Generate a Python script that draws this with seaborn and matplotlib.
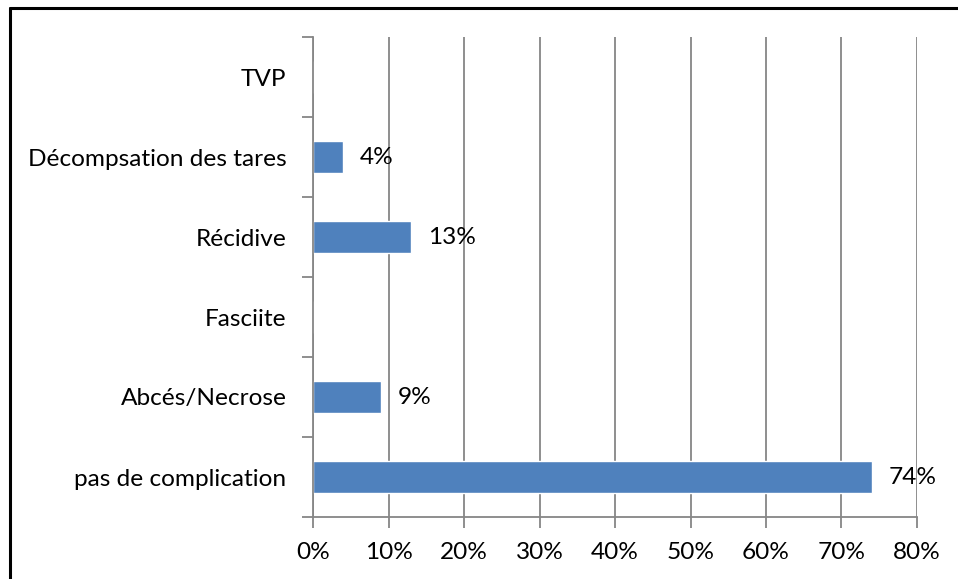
import matplotlib
matplotlib.use("Agg")
import matplotlib.pyplot as plt
from matplotlib.ticker import FixedLocator, PercentFormatter
import seaborn as sns
import pandas as pd

# Complications, listed top to bottom, with their share of patients (%)
categories = ["TVP", "Décompsation des tares", "Récidive", "Fasciite",
              "Abcés/Necrose", "pas de complication"]
values = [0, 4, 13, 0, 9, 74]
x_ticks = [0, 10, 20, 30, 40, 50, 60, 70, 80]

df = pd.DataFrame({"complication": categories, "pct": values})

sns.set_theme(style="white")
plt.rcParams["font.family"] = ["Lato", "DejaVu Sans"]

BAR = "#4F81BD"
GRID = "#868686"
FS = 17.6

fig = plt.figure(figsize=(9.58, 5.79), dpi=100)
ax = fig.add_axes([313 / 958, 1 - 517 / 579, (917 - 313) / 958, (517 - 37) / 579])

sns.barplot(data=df, y="complication", x="pct", orient="h", color=BAR,
            width=0.4, saturation=1, ax=ax, order=categories)

ax.set_xlim(0, 80)
ax.set_ylim(len(categories) - 0.5, -0.5)
ax.set_xlabel("")
ax.set_ylabel("")

ax.xaxis.set_major_locator(FixedLocator(x_ticks))
ax.xaxis.set_major_formatter(PercentFormatter(decimals=0))
ax.grid(axis="x", color=GRID, linewidth=1.3)
ax.set_axisbelow(True)

# category boundary ticks on the value axis side
ax.yaxis.set_minor_locator(FixedLocator([i - 0.5 for i in range(len(categories) + 1)]))
ax.tick_params(axis="y", which="major", length=0, pad=19, labelsize=FS, labelcolor="black")
ax.tick_params(axis="y", which="minor", left=True, length=8, width=1.3, color=GRID)
ax.tick_params(axis="x", which="major", bottom=True, length=8, width=1.3, color=GRID,
               pad=10, labelsize=FS, labelcolor="black")

for side in ("top", "right"):
    ax.spines[side].set_visible(False)
for side in ("left", "bottom"):
    ax.spines[side].set_color(GRID)
    ax.spines[side].set_linewidth(1.3)

# value labels to the right of each non-zero bar
for i, v in enumerate(values):
    if v > 0:
        ax.annotate(f"{v}%", xy=(v, i), xytext=(12, 0), textcoords="offset points",
                    ha="left", va="center", fontsize=FS, color="black")

# outer frame (top and left edges)
fig.add_artist(plt.Line2D([9.5 / 958, 1.0], [1 - 8 / 579, 1 - 8 / 579],
                          transform=fig.transFigure, color="black", linewidth=2.2))
fig.add_artist(plt.Line2D([9.5 / 958, 9.5 / 958], [0.0, 1 - 8 / 579],
                          transform=fig.transFigure, color="black", linewidth=2.2))

fig.savefig("out.png", dpi=100)
